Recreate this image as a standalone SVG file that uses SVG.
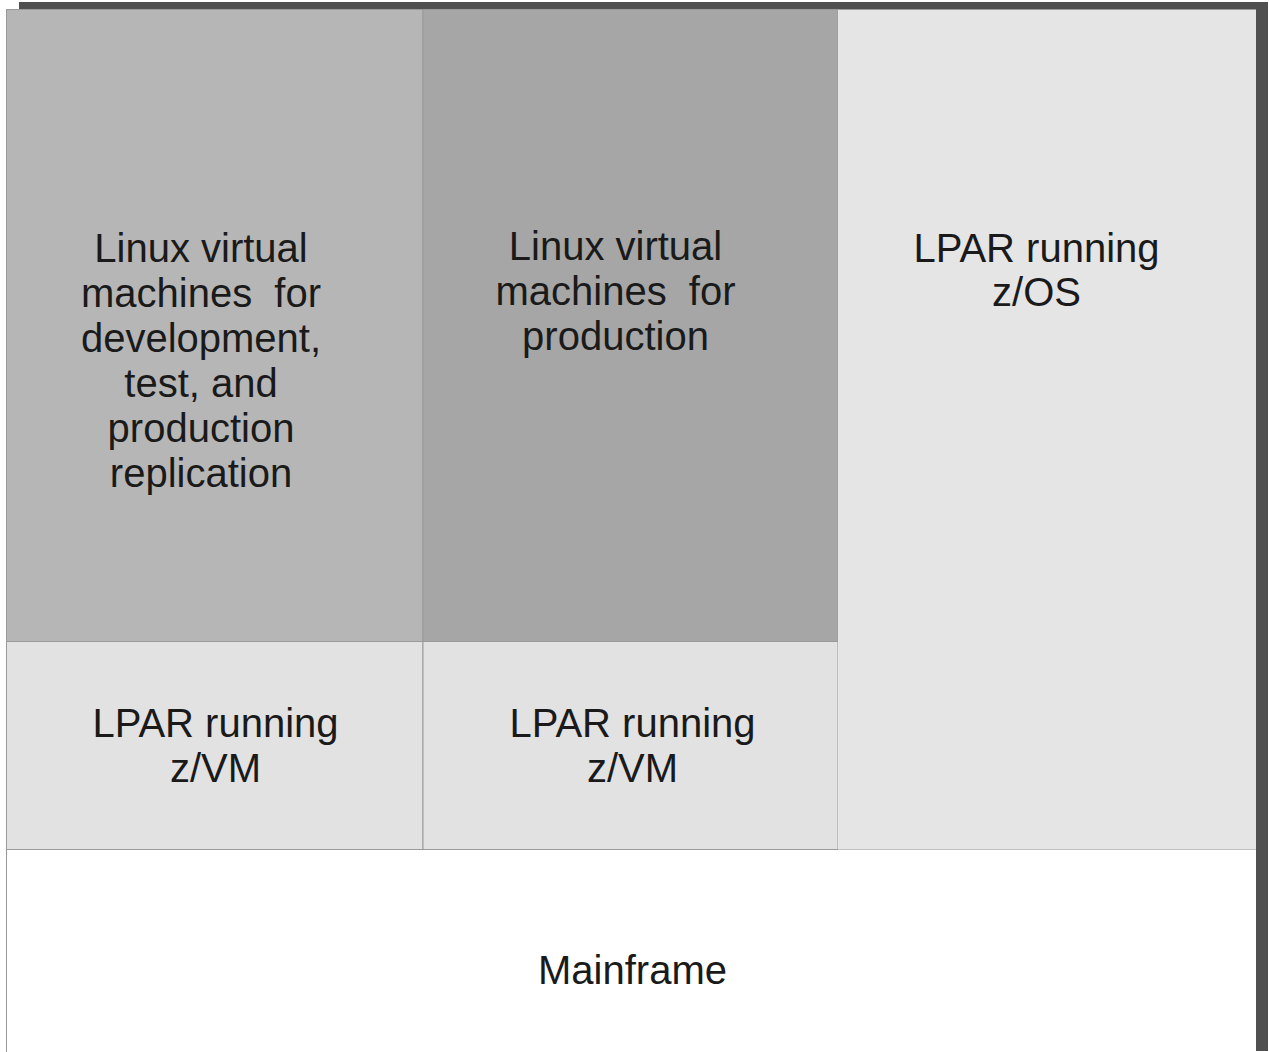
<svg xmlns="http://www.w3.org/2000/svg" width="1269" height="1052" viewBox="0 0 1269 1052">
<style>
.t{font-family:"Liberation Sans",Arial,sans-serif;font-size:40px;fill:#1a1a1a;text-anchor:middle;white-space:pre}
.p{stroke:#9a9a9a;stroke-width:1}
</style>
<rect width="1269" height="1052" fill="#ffffff"/>
<g id="shadow">
<rect x="19" y="2" width="1249" height="8" fill="#505050"/>
<rect x="1256" y="2" width="12" height="1049" fill="#505050"/>
</g>
<g id="mainframe">
<rect x="6" y="849.5" width="1250" height="203" fill="#ffffff"/>
<line class="p" x1="6.5" y1="849.5" x2="6.5" y2="1052"/>
<line class="p" x1="6.5" y1="849.5" x2="1256" y2="849.5"/>
<text class="t" x="632.5" y="984">Mainframe</text>
</g>
<g id="linux-dev">
<rect class="p" x="6.5" y="9.5" width="416.5" height="632" fill="#b6b6b6"/>
<text class="t" x="201" y="262">Linux virtual</text>
<text class="t" x="201" y="307">machines  for</text>
<text class="t" x="201" y="352">development,</text>
<text class="t" x="201" y="397">test, and</text>
<text class="t" x="201" y="442">production</text>
<text class="t" x="201" y="487">replication</text>
</g>
<g id="linux-prod">
<rect class="p" x="423" y="9.5" width="415" height="632" fill="#a6a6a6"/>
<text class="t" x="615.5" y="260">Linux virtual</text>
<text class="t" x="615.5" y="305">machines  for</text>
<text class="t" x="615.5" y="350">production</text>
</g>
<g id="lpar-zvm-1">
<rect class="p" x="6.5" y="641.5" width="416.5" height="208" fill="#e2e2e2"/>
<text class="t" x="215.5" y="737">LPAR running</text>
<text class="t" x="215.5" y="782">z/VM</text>
</g>
<g id="lpar-zvm-2">
<rect class="p" x="423" y="641.5" width="415" height="208" fill="#e2e2e2"/>
<text class="t" x="632.5" y="737">LPAR running</text>
<text class="t" x="632.5" y="782">z/VM</text>
</g>
<g id="lpar-zos">
<rect x="838" y="9.5" width="418" height="840" fill="#e5e5e5"/>
<text class="t" x="1036.5" y="262">LPAR running</text>
<text class="t" x="1036.5" y="306">z/OS</text>
</g>
<g id="connectors"></g>
</svg>
